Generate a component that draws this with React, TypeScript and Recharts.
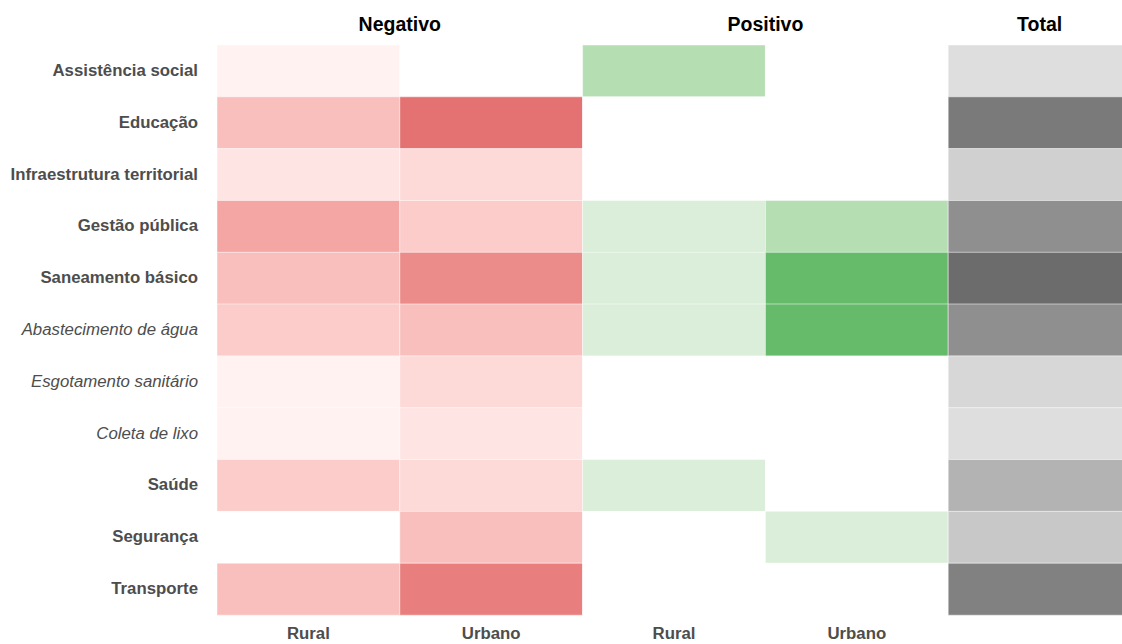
import React from "react";
import { BarChart, Bar, XAxis, YAxis, Cell, ReferenceLine } from "recharts";

const categories = [
  "Assistência social",
  "Educação",
  "Infraestrutura territorial",
  "Gestão pública",
  "Saneamento básico",
  "Abastecimento de água",
  "Esgotamento sanitário",
  "Coleta de lixo",
  "Saúde",
  "Segurança",
  "Transporte",
];
const italicCategories = ["Abastecimento de água", "Esgotamento sanitário", "Coleta de lixo"];

const negRural = [1, 5, 2, 7, 5, 4, 1, 1, 4, 0, 5];
const negUrban = [0, 11, 3, 4, 9, 5, 3, 2, 3, 5, 10];
const posRural = [2, 0, 0, 1, 1, 1, 0, 0, 1, 0, 0];
const posUrban = [0, 0, 0, 2, 4, 4, 0, 0, 0, 1, 0];
const totals = [3, 17, 5, 14, 19, 14, 4, 3, 9, 6, 16];

const bottomTicks = [0.5, 1.5, 2.5, 3.5];
const bottomLabels = ["Rural", "Urbano", "Rural", "Urbano"];
const groupPositions = [1, 3, 4.5];
const groupLabels = ["Negativo", "Positivo", "Total"];

const NEG_MAX = 11;
const POS_MAX = 4;

// --- Lab interpolation helpers ---
const toLin = (c: number) => {
  const s = c / 255;
  return s <= 0.04045 ? s / 12.92 : Math.pow((s + 0.055) / 1.055, 2.4);
};
const fromLin = (c: number) => {
  const s = c <= 0.0031308 ? 12.92 * c : 1.055 * Math.pow(c, 1 / 2.4) - 0.055;
  return Math.max(0, Math.min(255, Math.round(s * 255)));
};
const Xn = 0.95047, Yn = 1.0, Zn = 1.08883;
const f = (t: number) => (t > 216 / 24389 ? Math.cbrt(t) : (24389 / 27 * t + 16) / 116);
const finv = (t: number) => (t * t * t > 216 / 24389 ? t * t * t : (116 * t - 16) / (24389 / 27));
const rgbToLab = (rgb: number[]) => {
  const [r, g, b] = rgb.map(toLin);
  const X = 0.4124 * r + 0.3576 * g + 0.1805 * b;
  const Y = 0.2126 * r + 0.7152 * g + 0.0722 * b;
  const Z = 0.0193 * r + 0.1192 * g + 0.9505 * b;
  const fx = f(X / Xn), fy = f(Y / Yn), fz = f(Z / Zn);
  return [116 * fy - 16, 500 * (fx - fy), 200 * (fy - fz)];
};
const labToRgb = (lab: number[]) => {
  const fy = (lab[0] + 16) / 116;
  const fx = fy + lab[1] / 500;
  const fz = fy - lab[2] / 200;
  const X = Xn * finv(fx), Y = Yn * finv(fy), Z = Zn * finv(fz);
  const r = 3.2406 * X - 1.5372 * Y - 0.4986 * Z;
  const g = -0.9689 * X + 1.8758 * Y + 0.0415 * Z;
  const b = 0.0557 * X - 0.204 * Y + 1.057 * Z;
  return [fromLin(r), fromLin(g), fromLin(b)];
};
const WHITE_LAB = rgbToLab([255, 255, 255]);
const labMix = (base: number[], t: number) => {
  const b = rgbToLab(base);
  const c = labToRgb(WHITE_LAB.map((w, i) => w + (b[i] - w) * t));
  return `rgb(${c[0]},${c[1]},${c[2]})`;
};

const redFill = (v: number) => (v <= 0 ? "#ffffff" : labMix([228, 114, 114], v / NEG_MAX));
const greenFill = (v: number) => (v <= 0 ? "#ffffff" : labMix([102, 187, 106], v / POS_MAX));
const grayFill = (v: number) => {
  const d = 0.046 + 0.028 * v;
  const g = Math.round(255 * (1 - d));
  return `rgb(${g},${g},${g})`;
};

const data = categories.map((name, i) => ({
  name,
  negRural: negRural[i],
  negUrban: negUrban[i],
  posRural: posRural[i],
  posUrban: posUrban[i],
  total: totals[i],
}));

const FONT = "'Liberation Sans', Arial, Helvetica, sans-serif";

const YTick = (props: any) => {
  const { x, y, payload } = props;
  const italic = italicCategories.includes(payload.value);
  return (
    <text
      x={x}
      y={y}
      dy="0.3em"
      textAnchor="end"
      fill="#4d4d4d"
      fontFamily={FONT}
      fontSize={16.8}
      fontWeight={italic ? 400 : 700}
      fontStyle={italic ? "italic" : "normal"}
    >
      {payload.value}
    </text>
  );
};

const BottomTick = (props: any) => {
  const { x, y, payload } = props;
  const idx = bottomTicks.indexOf(payload.value);
  return (
    <text x={x} y={y} dy="0.35em" textAnchor="middle" fill="#4d4d4d" fontFamily={FONT} fontSize={16.8} fontWeight={700}>
      {bottomLabels[idx] ?? ""}
    </text>
  );
};

const GroupLabel = (props: any) => {
  const { viewBox, value } = props;
  if (!viewBox) return null;
  return (
    <text x={viewBox.x} y={viewBox.y - 21} dy="0.35em" textAnchor="middle" fill="#000000" fontFamily={FONT} fontSize={19.5} fontWeight={700}>
      {value}
    </text>
  );
};

const one = () => 1;

const series: { key: string; fill: (v: number) => string }[] = [
  { key: "negRural", fill: redFill },
  { key: "negUrban", fill: redFill },
  { key: "posRural", fill: greenFill },
  { key: "posUrban", fill: greenFill },
  { key: "total", fill: grayFill },
];

export default function App() {
  return (
    <div style={{ position: "fixed", left: 0, top: 0, width: 1122, height: 644, overflow: "hidden", background: "#fff" }}>
      <BarChart
        width={1140}
        height={660}
        data={data}
        layout="vertical"
        barCategoryGap={0}
        barGap={0}
        margin={{ top: 45, right: 9, bottom: 15, left: 0 }}
      >
        <XAxis
          type="number"
          domain={[0, 5]}
          ticks={bottomTicks}
          orientation="bottom"
          axisLine={false}
          tickLine={false}
          tickSize={0}
          tickMargin={18}
          height={30}
          tick={<BottomTick />}
          interval={0}
        />
        <YAxis
          type="category"
          dataKey="name"
          width={217}
          axisLine={false}
          tickLine={false}
          tickSize={0}
          tickMargin={19}
          tick={<YTick />}
          interval={0}
        />
        {series.map((s) => (
          <Bar key={s.key} dataKey={one} name={s.key} stackId="a" isAnimationActive={false}>
            {data.map((d: any, i) => (
              <Cell key={i} fill={s.fill(d[s.key])} stroke="#ffffff" strokeOpacity={0.45} strokeWidth={1} />
            ))}
          </Bar>
        ))}
        {groupPositions.map((p, i) => (
          <ReferenceLine
            key={groupLabels[i]}
            x={p}
            stroke="none"
            ifOverflow="visible"
            label={<GroupLabel value={groupLabels[i]} />}
          />
        ))}
      </BarChart>
    </div>
  );
}
